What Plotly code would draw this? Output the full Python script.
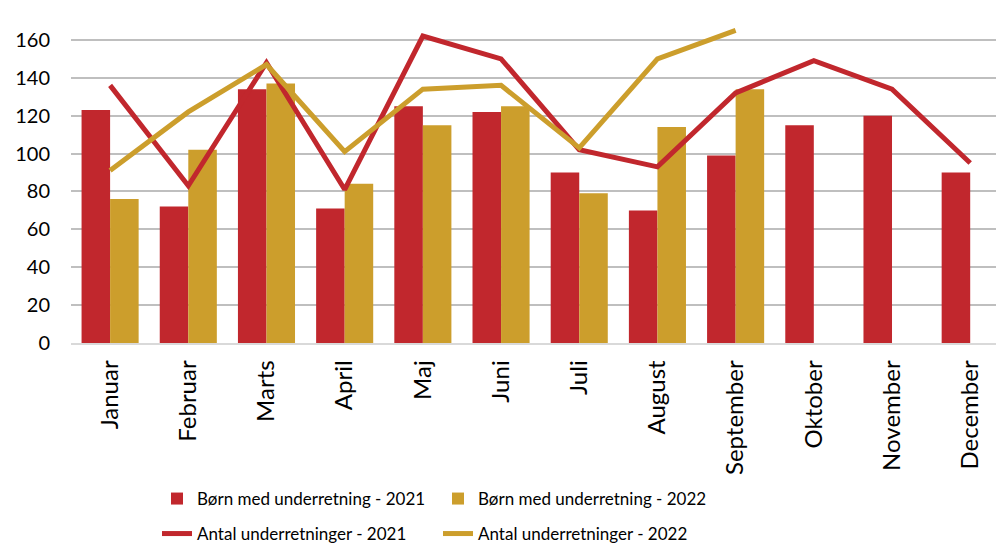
import plotly.graph_objects as go

months = ["Januar", "Februar", "Marts", "April", "Maj", "Juni", "Juli",
          "August", "September", "Oktober", "November", "December"]
born_2021 = [123, 72, 134, 71, 125, 122, 90, 70, 99, 115, 120, 90]
born_2022 = [76, 102, 137, 84, 115, 125, 79, 114, 134]
antal_2021 = [136, 83, 148, 81, 162, 150, 102, 93, 132, 149, 134, 95]
antal_2022 = [91, 122, 147, 101, 134, 136, 103, 150, 165]
y_ticks = [0, 20, 40, 60, 80, 100, 120, 140, 160]

RED = "#C1272D"
GOLD = "#CC9E2C"
FONT = "Lato, 'Open Sans', sans-serif"

fig = go.Figure()
fig.add_trace(go.Bar(x=months, y=born_2021, name="Børn med underretning - 2021",
                     marker=dict(color=RED, line=dict(width=0)), legend="legend"))
fig.add_trace(go.Bar(x=months[:len(born_2022)], y=born_2022, name="Børn med underretning - 2022",
                     marker=dict(color=GOLD, line=dict(width=0)), legend="legend"))
fig.add_trace(go.Scatter(x=months, y=antal_2021, name="Antal underretninger - 2021",
                         mode="lines", line=dict(color=RED, width=5), legend="legend2"))
fig.add_trace(go.Scatter(x=months[:len(antal_2022)], y=antal_2022, name="Antal underretninger - 2022",
                         mode="lines", line=dict(color=GOLD, width=5), legend="legend2"))

leg_common = dict(orientation="h", xref="container", yref="container",
                  xanchor="left", yanchor="middle",
                  entrywidth=236, entrywidthmode="pixels",
                  font=dict(family=FONT, size=17, color="#000000"), itemwidth=30,
                  traceorder="normal", bgcolor="rgba(0,0,0,0)")

fig.update_layout(
    width=996, height=551,
    margin=dict(l=71, r=0, t=2, b=208),
    paper_bgcolor="white", plot_bgcolor="white",
    barmode="group", bargap=0.27, bargroupgap=0,
    font=dict(family=FONT, size=20, color="#000000"),
    showlegend=True,
    legend=dict(x=157 / 996, y=1 - 499 / 551, **leg_common),
    legend2=dict(x=157 / 996, y=1 - 534 / 551, **leg_common),
    xaxis=dict(type="category", range=[-0.5, 11.33], tickangle=-90, automargin=False,
               showgrid=False, showline=True, linecolor="#D9D9D9", linewidth=1.5,
               ticks="", tickfont=dict(size=24), ticklabelstandoff=6),
    yaxis=dict(range=[0, 180], tickvals=y_ticks, showgrid=True, automargin=False,
               gridcolor="#BFBFBF", gridwidth=1.5, zeroline=False,
               showline=False, ticks="", tickfont=dict(size=20), ticklabelstandoff=20),
)

fig.write_html("out.html", config={"displayModeBar": False},
               post_script="document.body.style.margin='0px';")
